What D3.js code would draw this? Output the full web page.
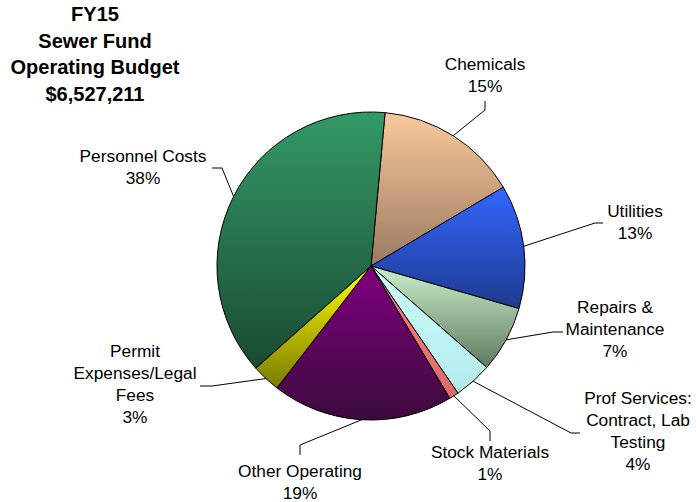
<!DOCTYPE html>
<html>
<head>
<meta charset="utf-8">
<script src="https://cdn.jsdelivr.net/npm/d3@7/dist/d3.min.js"></script>
<style>
  html, body { margin: 0; padding: 0; background: #fff; }
  svg { display: block; }
  text { font-family: "Liberation Sans", Arial, sans-serif; fill: #000; }
</style>
</head>
<body>
<svg id="chart" width="696" height="502"></svg>
<script>
// FY15 Sewer Fund operating budget, share of total by expense category
const titleLines = ["FY15", "Sewer Fund", "Operating Budget", "$6,527,211"];

const categories = [
  "Chemicals",
  "Utilities",
  "Repairs & Maintenance",
  "Prof Services: Contract, Lab Testing",
  "Stock Materials",
  "Other Operating",
  "Permit Expenses/Legal Fees",
  "Personnel Costs"
];

const percents = [15, 13, 7, 4, 1, 19, 3, 38];

// How each category name wraps in its callout
const labelLines = [
  ["Chemicals"],
  ["Utilities"],
  ["Repairs &", "Maintenance"],
  ["Prof Services:", "Contract, Lab", "Testing"],
  ["Stock Materials"],
  ["Other Operating"],
  ["Permit", "Expenses/Legal", "Fees"],
  ["Personnel Costs"]
];

// Fill gradients: light colour at the top of each slice, shaded at the bottom
const topColors    = ["#f9c99a", "#3366ff", "#ccf0cc", "#ccffff", "#ff8080", "#800080", "#ffff00", "#339966"];
const bottomColors = ["#9a7a62", "#1d3a8e", "#5f7a5f", "#b2eaea", "#e06a6a", "#3c0a3c", "#7a7a00", "#1a4a33"];

// Callout placement: text centre x, first baseline y, leader elbow and end
const callouts = [
  { x: 485, y: 70,  elbow: [485, 110], end: [485, 101] },
  { x: 635, y: 217, elbow: [595, 223], end: [603, 223] },
  { x: 615, y: 313, elbow: [553, 332], end: [563, 332] },
  { x: 638, y: 404, elbow: [571, 433], end: [580, 433] },
  { x: 490, y: 458, elbow: [490, 431], end: [490, 441] },
  { x: 300, y: 477, elbow: [300, 445], end: [300, 455] },
  { x: 135, y: 357, elbow: [212, 386], end: [200, 386] },
  { x: 143, y: 162, elbow: [222, 168], end: [212, 168] }
];

const svg = d3.select("#chart");
const cx = 371, cy = 266, radius = 154;
const lineH = 22;

// Title block
svg.append("g")
  .selectAll("text")
  .data(titleLines)
  .join("text")
  .attr("x", 95)
  .attr("y", (d, i) => 21 + i * 26.7)
  .attr("text-anchor", "middle")
  .style("font-size", "20px")
  .style("font-weight", "bold")
  .text(d => d);

// Gradients
const defs = svg.append("defs");
categories.forEach((c, i) => {
  const g = defs.append("linearGradient")
    .attr("id", "grad" + i)
    .attr("x1", 0).attr("y1", 0).attr("x2", 0).attr("y2", 1);
  g.append("stop").attr("offset", "0%").attr("stop-color", topColors[i]);
  g.append("stop").attr("offset", "100%").attr("stop-color", bottomColors[i]);
});

const startAngle = 0.0915;
const pie = d3.pie()
  .sort(null)
  .value(d => d.value)
  .startAngle(startAngle)
  .endAngle(startAngle + 2 * Math.PI);

const data = categories.map((c, i) => ({ name: c, value: percents[i], index: i }));
const arcs = pie(data);

const arc = d3.arc().innerRadius(0).outerRadius(radius);

const pieG = svg.append("g").attr("transform", `translate(${cx},${cy})`);

pieG.selectAll("path")
  .data(arcs)
  .join("path")
  .attr("d", arc)
  .attr("fill", d => `url(#grad${d.data.index})`)
  .attr("stroke", "#000")
  .attr("stroke-width", 1)
  .attr("stroke-linejoin", "round");

// Leader lines from each slice's rim midpoint to its label
const line = d3.line();
svg.append("g")
  .selectAll("path")
  .data(arcs)
  .join("path")
  .attr("d", d => {
    const a = (d.startAngle + d.endAngle) / 2;
    const rim = [cx + radius * Math.sin(a), cy - radius * Math.cos(a)];
    const c = callouts[d.data.index];
    return line([rim, c.elbow, c.end]);
  })
  .attr("fill", "none")
  .attr("stroke", "#000")
  .attr("stroke-width", 1);

// Labels: category name lines followed by the percentage
const labelG = svg.append("g");
arcs.forEach(d => {
  const i = d.data.index;
  const c = callouts[i];
  const lines = labelLines[i].concat([d3.format("d")(d.data.value) + "%"]);
  const t = labelG.append("text")
    .attr("text-anchor", "middle")
    .style("font-size", "17.3px");
  lines.forEach((s, k) => {
    t.append("tspan")
      .attr("x", c.x)
      .attr("y", c.y + k * lineH)
      .text(s);
  });
});
</script>
</body>
</html>
